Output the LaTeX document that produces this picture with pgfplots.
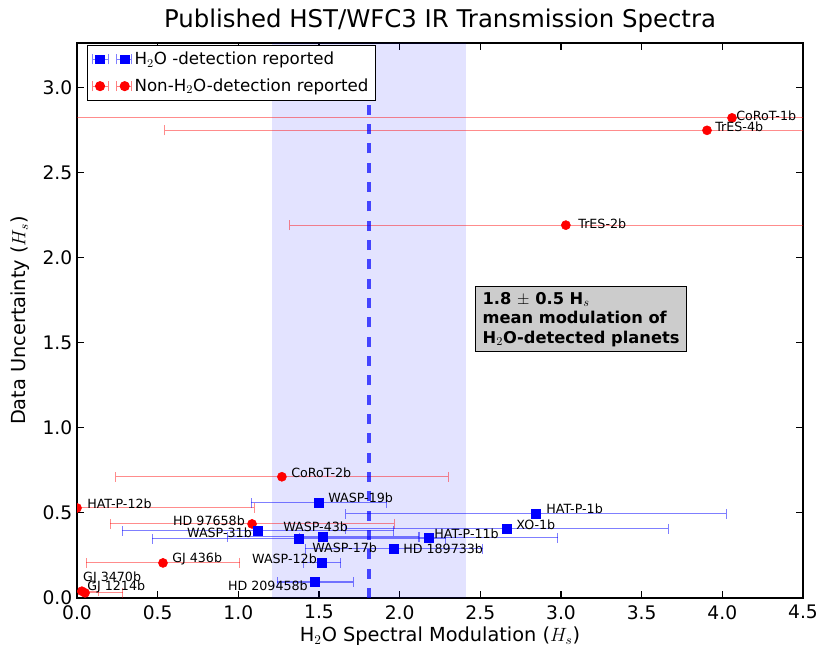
\documentclass[border=0pt]{standalone}
\usepackage{fontspec}
\setmainfont{DejaVu Sans}
\usepackage{pgfplots}
\usepackage{pgfplotstable}
\pgfplotsset{compat=1.18}

% H2O detection reported
\pgfplotstableread{
x      y      xerr
1.500  0.559  0.420
2.845  0.494  1.180
2.666  0.406  1.000
1.122  0.394  0.840
1.525  0.359  0.595
1.376  0.347  0.910
2.180  0.353  0.800
1.965  0.288  0.550
1.519  0.206  0.115
1.476  0.094  0.235
}\detected

% no H2O detection reported
\pgfplotstableread{
x      y      xerr
4.060  2.820  4.300
3.905  2.747  3.360
3.030  2.190  1.710
1.270  0.712  1.030
0.000  0.529  1.100
1.085  0.435  0.880
0.533  0.206  0.477
0.030  0.040  0.106
0.050  0.030  0.235
}\nondetected

\begin{document}
\begin{tikzpicture}
\begin{axis}[
  scale only axis,
  width=544.5pt, height=416.25pt,
  xmin=0, xmax=4.5, ymin=0, ymax=3.26,
  xtick={0,0.5,...,4.5}, ytick={0,0.5,...,3},
  tick align=inside, major tick length=5pt,
  axis line style={line width=0.9pt},
  every tick/.style={black, line width=0.8pt},
  /pgf/number format/.cd, fixed, fixed zerofill, precision=1, assume math mode=true,
  /pgfplots/.cd,
  ticklabel style={font=\fontsize{14}{16}\selectfont},
  xticklabel style={yshift=-2pt},
  xlabel={H$_2$O Spectral Modulation ($H_s$)},
  ylabel={Data Uncertainty ($H_s$)},
  label style={font=\fontsize{14.5}{17}\selectfont},
  xlabel style={at={(axis description cs:0.5,-0.0685)}, anchor=center},
  ylabel style={at={(axis description cs:-0.0785,0.5)}, anchor=center},
  title={Published HST/WFC3 IR Transmission Spectra},
  title style={font=\fontsize{18.3}{20}\selectfont, at={(axis description cs:0.5,1.047)}, anchor=center, yshift=-9pt},
  clip marker paths=true,
  reverse legend,
  legend style={at={(axis description cs:0.0138,0.9964)}, anchor=north west,
    draw=black, line width=0.75pt, font=\fontsize{12.5}{14}\selectfont,
    inner sep=3pt, row sep=5pt, cells={anchor=west}},
]

% shaded band and mean line
\addplot[draw=none, fill=blue, fill opacity=0.11, forget plot]
  coordinates {(1.21,0) (2.41,0) (2.41,3.26) (1.21,3.26)} -- cycle;

\addplot[only marks, mark=*, mark size=3.4pt, red, mark options={draw=red, fill=red},
  error bars/.cd, x dir=both, x explicit,
  error bar style={red, draw opacity=0.45, line width=0.75pt},
  error mark options={red, draw opacity=0.45, line width=0.75pt, mark size=3.75pt, rotate=90},
  /pgfplots/legend image code/.code={
    \draw[red!50, line width=0.75pt] (0pt,0pt)--(12pt,0pt) (0pt,-3.75pt)--(0pt,3.75pt) (12pt,-3.75pt)--(12pt,3.75pt)
      (18pt,0pt)--(29.5pt,0pt) (18pt,-3.75pt)--(18pt,3.75pt) (29.5pt,-3.75pt)--(29.5pt,3.75pt);
    \fill[red] (6pt,0pt) circle (3.4pt) (24.5pt,0pt) circle (3.4pt);
  }]
  table[x=x, y=y, x error=xerr] {\nondetected};
\addlegendentry{Non-H$_2$O-detection reported}

\addplot[only marks, mark=square*, mark size=3.3pt, blue, mark options={draw=blue, fill=blue},
  error bars/.cd, x dir=both, x explicit,
  error bar style={blue, draw opacity=0.5, line width=0.8pt},
  error mark options={blue, draw opacity=0.5, line width=0.8pt, mark size=3.75pt, rotate=90},
  /pgfplots/legend image code/.code={
    \draw[blue!50, line width=0.8pt] (0pt,0pt)--(12pt,0pt) (0pt,-3.75pt)--(0pt,3.75pt) (12pt,-3.75pt)--(12pt,3.75pt)
      (18pt,0pt)--(29.5pt,0pt) (18pt,-3.75pt)--(18pt,3.75pt) (29.5pt,-3.75pt)--(29.5pt,3.75pt);
    \fill[blue] (2.7pt,-3.3pt) rectangle (9.3pt,3.3pt) (21.2pt,-3.3pt) rectangle (27.8pt,3.3pt);
  }]
  table[x=x, y=y, x error=xerr] {\detected};
\addlegendentry{H$_2$O -detection reported}

\addplot[blue, draw opacity=0.7, line width=2.5pt, dash pattern=on 7.5pt off 7pt, forget plot]
  coordinates {(1.81,0) (1.81,3.26)};

% planet names
\begin{scope}[every node/.style={font=\fontsize{9.5}{11}\selectfont, inner sep=0pt}]
\node[anchor=west] at (axis cs:4.085,2.835) {CoRoT-1b};
\node[anchor=west] at (axis cs:3.955,2.770) {TrES-4b};
\node[anchor=west] at (axis cs:3.106,2.200) {TrES-2b};
\node[anchor=west] at (axis cs:1.327,0.735) {CoRoT-2b};
\node[anchor=west] at (axis cs:0.062,0.553) {HAT-P-12b};
\node[anchor=west] at (axis cs:1.556,0.588) {WASP-19b};
\node[anchor=west] at (axis cs:2.908,0.524) {HAT-P-1b};
\node[anchor=west] at (axis cs:2.722,0.430) {XO-1b};
\node[anchor=west] at (axis cs:2.213,0.376) {HAT-P-11b};
\node[anchor=west] at (axis cs:2.021,0.288) {HD 189733b};
\node[anchor=west] at (axis cs:1.277,0.418) {WASP-43b};
\node[anchor=east] at (axis cs:1.085,0.382) {WASP-31b};
\node[anchor=east] at (axis cs:1.042,0.453) {HD 97658b};
\node[anchor=west] at (axis cs:1.457,0.294) {WASP-17b};
\node[anchor=east] at (axis cs:1.488,0.229) {WASP-12b};
\node[anchor=east] at (axis cs:1.432,0.071) {HD 209458b};
\node[anchor=west] at (axis cs:0.589,0.229) {GJ 436b};
\node[anchor=west] at (axis cs:0.037,0.118) {GJ 3470b};
\node[anchor=west] at (axis cs:0.062,0.065) {GJ 1214b};
\end{scope}

% annotation box
\node[anchor=north west, draw=black, line width=0.75pt, fill=black!20, align=left,
  font=\fontsize{12.2}{14.5}\selectfont\bfseries, inner xsep=5pt, inner ysep=4pt]
  at (axis cs:2.47,1.83)
  {1.8 $\pm$ 0.5 H$_s$\\mean modulation of\\H$_2$O-detected planets};
\end{axis}
\pgfresetboundingbox
\useasboundingbox ([shift={(-57.75pt,-51pt)}]current axis.south west)
  rectangle ([shift={(21pt,32.25pt)}]current axis.north east);
\end{tikzpicture}
\end{document}
